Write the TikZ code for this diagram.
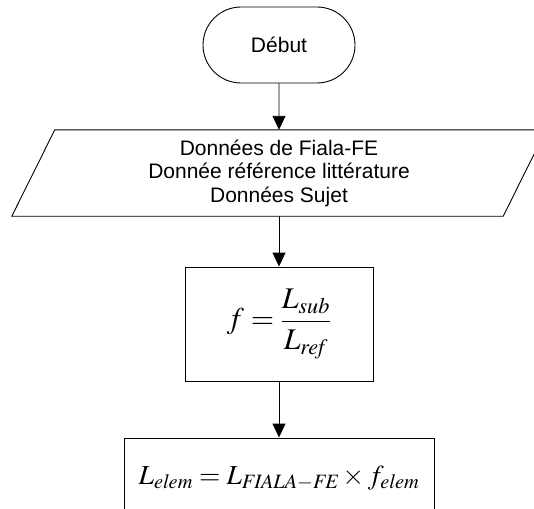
\documentclass[tikz,border=0pt]{standalone}
\usepackage{mathptmx}
\usepackage[no-math]{fontspec}
\setmainfont{Liberation Sans}
\usetikzlibrary{arrows.meta,shapes.misc,calc}
\tikzset{
  box/.style={draw, line width=0.9pt},
  term/.style={box, rounded rectangle, minimum width=152pt, minimum height=76pt, inner sep=0pt},
  lbl/.style={font=\fontsize{21}{23.5}\selectfont, align=center},
  eq/.style={box, font=\fontsize{30}{34}\selectfont, inner sep=0pt},
  arr/.style={line width=0.9pt, -{Triangle[width=13pt,length=14pt]}}
}
\begin{document}
\begin{tikzpicture}[x=1pt,y=-1pt]
\useasboundingbox (0,0) rectangle (534,508);
\clip (0,0) rectangle (534,508);
\fill[white] (0,0) rectangle (534,508);
\node[term, lbl] (start) at (279,45) {Début};
\node[lbl, minimum width=491pt, minimum height=86pt, inner sep=0pt] (data) at (279,173)
  {Données de Fiala-FE\\Donnée référence littérature\\Données Sujet};
\draw[box] ($(data.north west)+(21.5,0)$) -- ($(data.north east)+(21.5,0)$)
  -- ($(data.south east)+(-21.5,0)$) -- ($(data.south west)+(-21.5,0)$) -- cycle;
\node[eq, minimum width=188pt, minimum height=114pt] (fac) at (279,324)
  {$\displaystyle f=\frac{L_{\mathit{sub}}}{L_{\mathit{ref}}}$};
\node[eq, font=\fontsize{27.5}{32}\selectfont, minimum width=310pt, minimum height=80pt] (res) at (279,478)
  {$L_{\mathit{elem}}=L_{\mathit{FIALA}-\mathit{FE}}\times f_{\mathit{elem}}$};
\draw[arr] (start) -- (data);
\draw[arr] (data) -- (fac);
\draw[arr] (fac) -- (res);
\end{tikzpicture}
\end{document}
